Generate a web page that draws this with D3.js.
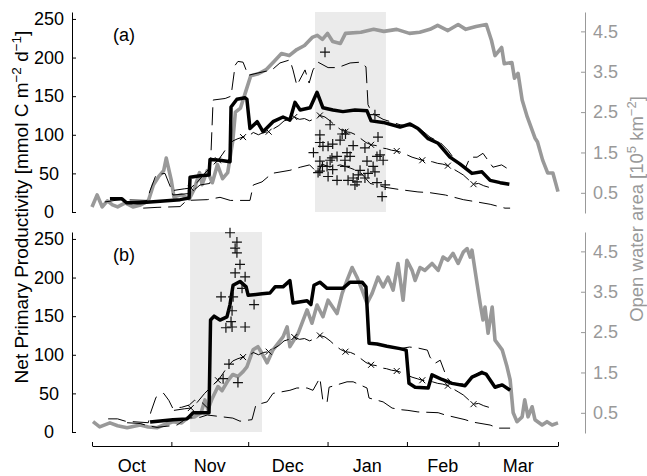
<!DOCTYPE html>
<html>
<head>
<meta charset="utf-8">
<script src="https://cdn.jsdelivr.net/npm/d3@7"></script>
<style>
  body { margin: 0; background: #fff; }
  svg { display: block; font-family: "Liberation Sans", Arial, sans-serif; }
</style>
</head>
<body>
<div id="chart"></div>
<script>
// days are counted from 1 Oct
// open water area [10^5 km^2], right axis
const grayA = [[0,0.15],[2,0.45],[4,0.15],[6,0.3],[8,0.2],[10,0.15],[13,0.25],[16,0.15],[19,0.2],[22,0.3],[24,0.7],[26,0.9],[28,1.05],[29,1.36],[31,0.8],[32,0.4],[35,0.45],[38,0.35],[40,0.6],[42,1.0],[43,0.7],[45,1.05],[47,0.75],[49,1.2],[51,0.85],[53,1.0],[55,1.8],[56,2.5],[58,2.6],[60,3.0],[62,3.4],[65,3.45],[68,3.55],[71,3.75],[74,3.95],[77,3.9],[80,4.05],[83,4.15],[86,4.35],[88,4.4],[90,4.3],[92,4.45],[94,4.25],[97,4.2],[99,4.45],[105,4.48],[110,4.55],[114,4.5],[119,4.55],[124,4.45],[128,4.48],[132,4.55],[135,4.65],[139,4.52],[143,4.67],[146,4.55],[150,4.62],[154,4.67],[156,4.28],[157.4,3.9],[160,4.1],[161,3.7],[164,3.73],[165,3.34],[166.4,3.46],[168,2.8],[170,2.38],[173,1.86],[174,1.76],[176,1.31],[178,0.99],[180,0.99],[182,0.53]];
const grayB = [[0.4,0.28],[3,0.15],[7,0.25],[10,0.18],[13.7,0.13],[18.8,0.2],[22,0.15],[25.4,0.13],[28,0.2],[31.6,0.28],[35,0.25],[37.5,0.38],[40,0.4],[42.6,0.5],[44.1,0.82],[45.3,0.58],[46.9,0.85],[49.2,1.15],[50.8,1.05],[53.1,1.3],[55,1.45],[57,1.4],[59,1.52],[60.5,1.64],[62.9,2.06],[64.8,2.14],[66.4,1.97],[68.4,1.74],[70.7,2.06],[74.6,2.38],[76.2,2.63],[77.3,2.14],[80.5,2.47],[84,3.05],[85.9,2.72],[87.9,3.17],[90.2,2.88],[92.2,3.29],[95.7,2.96],[97.7,3.46],[99.6,3.78],[101.6,4.1],[103.5,3.86],[105.5,3.54],[107.4,3.21],[109.4,3.46],[111.7,3.86],[113.7,3.62],[115.6,3.86],[117.6,3.54],[119.5,4.2],[121.5,3.29],[123,4.28],[125,4.03],[126.2,3.78],[128.1,4.1],[130,4.03],[132.8,4.2],[135.2,4.03],[137.1,4.36],[139,4.28],[141,4.45],[143,4.2],[145,4.48],[146.5,4.57],[147.7,4.36],[148.4,4.53],[150.4,3.7],[151.6,3.21],[152.7,2.8],[153.5,3.12],[154.7,2.47],[156.3,3.12],[157.4,2.3],[160.2,2.06],[162.1,1.64],[163.3,1.32],[164.5,0.5],[166,0.28],[168,0.4],[169,0.82],[170.3,0.4],[171.9,0.65],[173,0.33],[175.8,0.2],[177.7,0.28],[179.7,0.2],[182,0.25]];

// NPP [mmol C m-2 d-1], left axis
const blackA = [[7,17],[11.7,17],[13.5,12],[18.7,12],[26.6,14],[34.4,16],[37.9,18],[38.3,45],[42.2,47],[45.7,48],[46.1,68],[50,67],[53.9,65],[54.3,136],[56.6,146],[59.8,148],[60.5,146],[61.7,108],[64.5,117],[66.8,104],[70.7,117],[74.6,123],[77.3,119],[79.3,142],[81.3,132],[85.2,135],[87.9,155],[90.2,135],[94.1,132],[98,130],[102.7,132],[107.4,131],[109,118],[113.7,116],[120.3,110],[124.2,114],[127.3,108],[131.3,95],[135.2,89],[139.8,71],[143.8,62],[148.4,50],[152.3,52],[155.5,41],[159.4,38],[163,36]];
const blackB = [[22.7,13],[31.6,16],[37.1,17],[39.5,25],[45.7,25],[46.3,145],[47.7,150],[50,145],[52.7,149],[53.9,165],[55.1,190],[57.8,195],[60.2,188],[61,177],[66.4,179],[69.5,180],[71.5,188],[74.6,188],[77.3,196],[78.5,167],[84,170],[85.5,165],[86.7,190],[89,194],[91.8,186],[98,186],[100.8,194],[105.5,194],[107,188],[108.2,115],[111.3,114],[115.2,111],[120.3,108],[122.7,106],[123.8,63],[126.2,58],[131.3,57],[132.8,74],[136.7,68],[140.6,63],[145.7,60],[148.4,71],[152.3,77],[153.9,75],[157.4,58],[160.2,61],[163.3,54]];

const upperA = [[5,13],[11,16],[21.5,15],[22.7,28],[25,48],[28.5,50],[30.8,31],[31.6,22],[38.3,24],[42.2,35],[46,37],[47.3,145],[52,147],[54.3,150],[55.9,190],[57,195],[59,194],[61,177],[64.8,180],[70.3,184],[73.4,193],[77.3,197],[78.5,184],[80,164],[83.2,184],[84.8,167],[86.3,184],[88.3,194],[92.2,187],[96,187],[100.8,193],[104.7,194],[107,188],[107.8,139],[109.4,128],[113.7,120],[120.3,113],[127.3,110],[132,97],[136,90],[139,80],[143,62],[146,58],[147.7,71],[150.4,71],[152.7,76],[156.6,58],[160,61],[163.3,54]];
const upperB = [[6.3,17],[10,17],[13,14],[22,12],[23,26],[25,45],[28,50],[30,41],[31.5,31],[35,32],[38,35],[40,41],[43,38],[45.5,30],[46.3,145],[47.7,150],[50,145],[52.7,149],[53.9,165],[55.1,190],[57.8,195],[60.2,188],[61,177],[66.4,179],[69.5,180],[71.5,188],[74.6,188],[77.3,196],[78.5,167],[84,170],[85.5,165],[86.7,190],[89,194],[91.8,186],[98,186],[100.8,194],[105.5,194],[107,188],[108.2,115],[111.3,114],[115.2,111],[120.3,108],[124,110],[127,109],[131,106],[132,97],[134,89],[136,93],[138.5,71],[140.6,63],[145.7,62],[148.4,72],[152.3,79],[153.9,76],[157.4,60],[160.2,62],[163.3,55]];

const lowerA = [[20,5],[25.4,6],[34.4,7],[37,15],[45,16],[50,19],[54,15],[61.7,15],[63,35],[66.4,39],[70.3,50],[77.3,54],[81.3,58],[85,61],[88.3,50],[89.8,62],[93,58],[97,61],[100.8,57],[104.7,52],[108.6,37],[114.5,32],[120.3,29],[127.3,26],[132,25],[138,22],[145,16],[150.4,13],[155.5,10],[161.3,5],[163.3,5]];
const lowerB = [[13.7,12],[18.8,11],[22,8],[25.4,6],[33.2,9],[37.1,18],[42.2,19],[45,22],[50,20],[55,18],[57.8,14],[62.5,16],[64,35],[68.4,39],[70.7,50],[77.3,54],[80,57],[84,57],[86.3,54],[89,70],[90.2,40],[91.8,38],[92.6,58],[99.6,65],[102,65],[107.4,57],[108.2,44],[113.7,39],[117.2,31],[120.3,29],[123.4,28],[127.3,26],[135.2,25],[138,22],[145.7,16],[148.4,13],[155.5,9],[158.6,5],[163.3,5]];

// thin line with x markers, the same in both panels
const xLine = [[32,28],[36,30],[38.6,31],[41,38],[44,50],[47,60],[49.2,67],[51,75],[53,85],[55,92],[57,95],[59,97],[61,98],[63,103],[65,100],[67,103],[69,104],[71,108],[73,112],[75,118],[77,120],[79,123],[81,120],[83,121],[85,118],[87,121],[89,125],[91,123],[93,118],[95,112],[97,107],[99,104],[101,103],[103,100],[105,95],[107,90],[109,87],[111,86],[113,83],[115,82],[117,80],[119,79],[121,77],[123,74],[125,71],[127,69],[129,67],[131,66],[133,65],[135,63],[137,62],[139,60],[141,56],[143,52],[145,48],[147,42],[149,36],[151,37],[153,34],[155,32]];
const xMarkDays = [38.6, 49.2, 59, 69, 79, 89, 99, 109, 119, 129, 139, 149];

// observations (+)
const plusA = [[91,207],[89,100],[93,113],[97.7,101],[99,101],[89,90],[90.2,85],[86.5,77],[92.2,85],[94,88],[96.9,93],[102,86],[99.6,77],[100.8,72],[89,66],[93.7,70],[91.8,59],[95.7,72],[98.8,59],[88.3,51],[92.2,46],[95.7,41],[100,41],[102,44],[104,48],[102.7,35],[106.6,44],[107.4,66],[106.6,83],[110.5,126],[111.7,97],[112.5,74],[113.7,67],[110.5,52],[111.3,38],[114.5,35],[113.3,20],[109.8,59],[107.8,50],[90,59],[104.7,54],[111.3,72],[103.5,39],[89,53],[93,67],[98.8,67],[94,55]];
const plusB = [[53.9,258],[56.6,246],[55.9,238],[56.6,232],[57.8,217],[55.9,206],[59.8,201],[58.6,186],[50.4,175],[55.1,175],[63.3,165],[54.7,157],[54.3,143],[52.3,135],[54.7,136],[59.8,136],[53.5,88],[51.2,69],[57,64]];

// shaded periods (days)
const shadeA = [87.1, 114.8];
const shadeB = [38.3, 66.4];

const nppTicks = [0, 50, 100, 150, 200, 250];
const areaTicks = [0.5, 1.5, 2.5, 3.5, 4.5];
const monthNames = ['Oct', 'Nov', 'Dec', 'Jan', 'Feb', 'Mar'];

let width = 647;
let height = 476;
const grayCol = '#999999';

const t0 = new Date(2002, 9, 1);
const x = d3.scaleTime()
    .domain([t0, new Date(2003, 3, 1)])
    .range([92, 558]);
const dx = d => x(new Date(t0.getTime() + d * 864e5));

const svg = d3.select('#chart').append('svg')
    .attr('width', width)
    .attr('height', height);

function drawPanel(off, label, gray, black, upper, lower, plus, shade) {
    let yL = d3.scaleLinear().domain([0, 259]).range([212 + off, 12 + off]);
    let yR = d3.scaleLinear().domain([0, 4.98]).range([213 + off, 12 + off]);
    const g = svg.append('g');

    g.append('rect')
        .attr('x', dx(shade[0]))
        .attr('width', dx(shade[1]) - dx(shade[0]))
        .attr('y', yL(259))
        .attr('height', yL(0) - yL(259))
        .attr('fill', '#ebebeb');

    let lineL = d3.line().x(d => dx(d[0])).y(d => yL(d[1]));
    let lineR = d3.line().x(d => dx(d[0])).y(d => yR(d[1]));

    g.append('path').attr('d', lineR(gray))
        .attr('fill', 'none').attr('stroke', grayCol).attr('stroke-width', 3.6)
        .attr('stroke-linejoin', 'round');

    [lower, upper, xLine].forEach(s => {
        g.append('path').attr('d', lineL(s))
            .attr('fill', 'none').attr('stroke', '#000').attr('stroke-width', 1)
            .attr('stroke-dasharray', '18,7');
    });

    g.selectAll('.xm')
        .data(xLine.filter(d => xMarkDays.includes(d[0])))
        .enter().append('path')
        .attr('transform', d => 'translate(' + dx(d[0]) + ',' + yL(d[1]) + ')')
        .attr('d', 'M-3,-3L3,3M-3,3L3,-3')
        .attr('stroke', '#000').attr('stroke-width', 1);

    g.append('path').attr('d', lineL(black))
        .attr('fill', 'none').attr('stroke', '#000').attr('stroke-width', 3.5)
        .attr('stroke-linejoin', 'round');

    g.selectAll('.pm')
        .data(plus)
        .enter().append('path')
        .attr('transform', d => 'translate(' + dx(d[0]) + ',' + yL(d[1]) + ')')
        .attr('d', 'M-5,0H5M0,-5V5')
        .attr('stroke', '#111').attr('stroke-width', 1.2);

    // left axis, ticks pointing inward
    const la = g.append('g').attr('transform', 'translate(72,0)');
    la.call(d3.axisLeft(yL).tickValues(d3.range(0, 260, 10)).tickSize(-2).tickSizeOuter(0).tickFormat(''));
    la.call(d3.axisLeft(yL).tickValues(nppTicks).tickSize(-4).tickSizeOuter(0));
    la.selectAll('text')
        .attr('x', -23).attr('text-anchor', 'middle')
        .attr('font-size', 18).attr('font-family', '"Liberation Sans", Arial, sans-serif');

    const ra = g.append('g').attr('transform', 'translate(585,0)').attr('color', grayCol);
    ra.call(d3.axisRight(yR).tickValues(d3.range(1, 50).map(v => v / 10)).tickSize(-2).tickSizeOuter(0).tickFormat(''));
    ra.call(d3.axisRight(yR).tickValues(areaTicks).tickSize(-4).tickSizeOuter(0).tickPadding(8).tickFormat(d3.format('.1f')));
    ra.selectAll('text')
        .attr('font-size', 18).attr('font-family', '"Liberation Sans", Arial, sans-serif');

    g.append('text')
        .attr('x', 113).attr('y', 41 + off)
        .attr('font-size', 18)
        .text(label);
}

drawPanel(0, '(a)', grayA, blackA, upperA, lowerA, plusA, shadeA);
drawPanel(220, '(b)', grayB, blackB, upperB, lowerB, plusB, shadeB);

// shared time axis, month names sit between month ticks
const months = d3.timeMonth.range(t0, new Date(2003, 3, 2));
const xa = svg.append('g').attr('transform', 'translate(0,446)');
xa.call(d3.axisBottom(x).tickValues(months).tickSize(-4).tickSizeOuter(0).tickFormat(''));
svg.append('g').selectAll('.mlabel')
    .data(monthNames)
    .enter().append('text')
    .attr('class', 'mlabel')
    .attr('x', (d, i) => (x(months[i]) + x(months[i + 1])) / 2)
    .attr('y', 472)
    .attr('text-anchor', 'middle')
    .attr('fill', '#000')
    .attr('font-size', 18)
    .text(d => d);

// axis titles
const lt = svg.append('text')
    .attr('transform', 'translate(28,207) rotate(-90)')
    .attr('text-anchor', 'middle')
    .attr('font-size', 19);
lt.append('tspan').text('Net Primary Productivity [mmol C m');
lt.append('tspan').attr('dy', -7).attr('font-size', 13.5).text('\u22122');
lt.append('tspan').attr('dy', 7).text(' d');
lt.append('tspan').attr('dy', -7).attr('font-size', 13.5).text('\u22121');
lt.append('tspan').attr('dy', 7).text(']');

const rt = svg.append('text')
    .attr('transform', 'translate(643,209) rotate(-90)')
    .attr('text-anchor', 'middle')
    .attr('fill', grayCol)
    .attr('font-size', 18.5);
rt.append('tspan').text('Open water area [10');
rt.append('tspan').attr('dy', -7).attr('font-size', 13).text('5');
rt.append('tspan').attr('dy', 7).text(' km');
rt.append('tspan').attr('dy', -7).attr('font-size', 13).text('\u22122');
rt.append('tspan').attr('dy', 7).text(']');
</script>
</body>
</html>
